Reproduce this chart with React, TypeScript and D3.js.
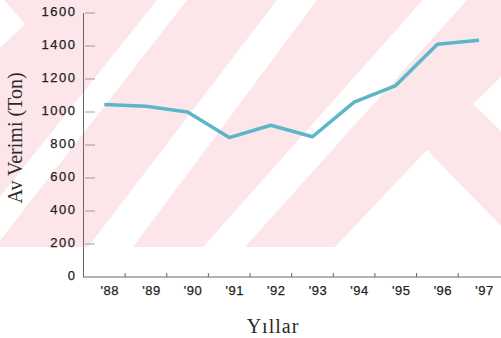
import { useEffect, useRef } from "react";
import * as d3 from "d3";

const years = ["88", "89", "90", "91", "92", "93", "94", "95", "96", "97"];
const catch_ = [1045, 1035, 1000, 845, 920, 850, 1060, 1160, 1410, 1435];
const yTicks = [0, 200, 400, 600, 800, 1000, 1200, 1400, 1600];

const W = 501;
const H = 338;

function App() {
    const svgRef = useRef<SVGSVGElement>(null);

    useEffect(() => {
        const svgEl = svgRef.current;
        if (!svgEl) return;

        d3.select(svgEl).selectAll("*").remove();
        const svg = d3.select(svgEl);

        const axisX = 83.5;
        const x = d3.scalePoint<string>().domain(years).range([104.3, 479]);
        const y = d3.scaleLinear().domain([0, 1600]).range([277, 13]);
        const step = x.step();

        // scanned watermark in the background
        const wmH = 247;
        svg.append("defs")
            .append("clipPath")
            .attr("id", "wm-clip")
            .append("rect")
            .attr("x", 0).attr("y", 0).attr("width", W).attr("height", wmH);

        const wm = svg.append("g").attr("clip-path", "url(#wm-clip)");
        wm.append("rect")
            .attr("x", 0).attr("y", 0).attr("width", W).attr("height", wmH)
            .attr("fill", "#fce6ea");
        // [top left, top right, bottom left, bottom right]
        const bands = [[157, 187, -40, -5], [277, 317, 88, 133], [423, 467, 203, 245]];
        bands.forEach(([t1, t2, b1, b2]) => {
            wm.append("polygon")
                .attr("points", `${t1},0 ${t2},0 ${b2},${wmH} ${b1},${wmH}`)
                .attr("fill", "#fff");
        });
        wm.append("polygon").attr("points", "0,0 4,0 25,24 0,48").attr("fill", "#fff");
        wm.append("polygon").attr("points", "427,150 505,230 505,247 335,247").attr("fill", "#fff");
        wm.append("polygon").attr("points", "501,77 473,104 501,131").attr("fill", "#fff");

        // axes
        svg.append("line")
            .attr("x1", axisX).attr("x2", axisX)
            .attr("y1", y(1600)).attr("y2", y(0) + 0.5)
            .attr("stroke", "#666").attr("stroke-width", 1);
        svg.append("line")
            .attr("x1", axisX).attr("x2", W)
            .attr("y1", y(0)).attr("y2", y(0))
            .attr("stroke", "#666").attr("stroke-width", 1);

        svg.append("g")
            .selectAll("line")
            .data(yTicks.filter(d => d > 0))
            .join("line")
            .attr("x1", 85).attr("x2", 95)
            .attr("y1", d => y(d)).attr("y2", d => y(d))
            .attr("stroke", "#888").attr("stroke-width", 0.8);

        svg.append("g")
            .selectAll("text")
            .data(yTicks)
            .join("text")
            .attr("x", 76.5)
            .attr("y", d => y(d) + 3)
            .attr("text-anchor", "end")
            .attr("font-family", "Liberation Sans, Arial, sans-serif")
            .attr("font-size", "13px")
            .attr("letter-spacing", "1.5")
            .attr("fill", "#222")
            .attr("stroke", "#222")
            .attr("stroke-width", 0.25)
            .text(d => d);

        svg.append("g")
            .selectAll("line")
            .data(years.slice(0, -1))
            .join("line")
            .attr("x1", d => (x(d) ?? 0) + step / 2)
            .attr("x2", d => (x(d) ?? 0) + step / 2)
            .attr("y1", y(0)).attr("y2", y(0) - 4)
            .attr("stroke", "#666").attr("stroke-width", 1);

        svg.append("g")
            .selectAll("text")
            .data(years)
            .join("text")
            .attr("x", d => (x(d) ?? 0) + 5.5)
            .attr("y", 295)
            .attr("text-anchor", "middle")
            .attr("font-family", "Liberation Sans, Arial, sans-serif")
            .attr("font-size", "13px")
            .attr("letter-spacing", "0.5")
            .attr("fill", "#222")
            .attr("stroke", "#222")
            .attr("stroke-width", 0.25)
            .text(d => `'${d}`);

        // line
        const line = d3.line<number>()
            .x((_, i) => x(years[i]) ?? 0)
            .y(d => y(d));
        svg.append("path")
            .datum(catch_)
            .attr("d", line)
            .attr("fill", "none")
            .attr("stroke", "#5ab6c8")
            .attr("stroke-width", 3.5)
            .attr("stroke-linejoin", "round");

        // titles
        svg.append("text")
            .attr("transform", "translate(22,138) rotate(-90)")
            .attr("text-anchor", "middle")
            .attr("font-family", "Liberation Serif, Times New Roman, serif")
            .attr("font-size", "20px")
            .attr("fill", "#2a2a2a")
            .text("Av Verimi (Ton)");

        svg.append("text")
            .attr("x", 273)
            .attr("y", 333)
            .attr("text-anchor", "middle")
            .attr("font-family", "Liberation Serif, Times New Roman, serif")
            .attr("font-size", "20px")
            .attr("letter-spacing", "1")
            .attr("fill", "#2a2a2a")
            .text("Yıllar");
    }, []);

    return (
        <svg
            ref={svgRef}
            width={W}
            height={H}
            style={{ position: "absolute", left: 0, top: 0, display: "block", background: "#fff" }}
        />
    );
}

export default App;
